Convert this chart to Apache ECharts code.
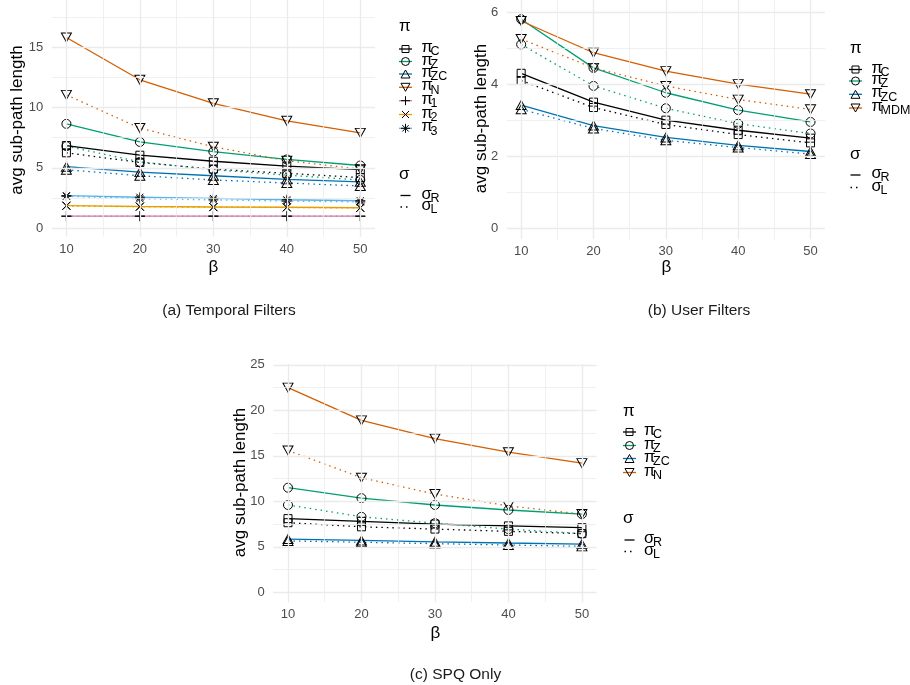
<!DOCTYPE html>
<html>
<head>
<meta charset="utf-8">
<script src="https://cdn.jsdelivr.net/npm/echarts@6/dist/echarts.min.js"></script>
<style>
html,body{margin:0;padding:0;background:#fff}
#chart{width:910px;height:685px}
</style>
</head>
<body>
<div id="chart"></div>
<script>
// ---- data -------------------------------------------------------------
const beta = [10, 20, 30, 40, 50];
const betaMinor = [15, 25, 35, 45];

// (a) Temporal Filters
const tempYTicks = [0, 5, 10, 15];
const tempYMinor = [2.5, 7.5, 12.5, 17.5];
const tempC_R  = [6.85, 6.05, 5.55, 5.15, 4.85];
const tempC_L  = [6.25, 5.45, 4.9, 4.55, 4.2];
const tempZ_R  = [8.65, 7.15, 6.35, 5.7, 5.2];
const tempZ_L  = [6.8, 5.5, 4.85, 4.4, 4.0];
const tempZC_R = [5.1, 4.65, 4.35, 4.05, 3.85];
const tempZC_L = [4.85, 4.35, 4.0, 3.75, 3.5];
const tempN_R  = [15.8, 12.3, 10.35, 8.9, 7.9];
const tempN_L  = [11.05, 8.3, 6.75, 5.6, 4.9];
const temp1_R  = [1, 1, 1, 1, 1];
const temp1_L  = [1, 1, 1, 1, 1];
const temp2_R  = [1.88, 1.8, 1.76, 1.74, 1.7];
const temp2_L  = [1.85, 1.78, 1.74, 1.72, 1.68];
const temp3_R  = [2.7, 2.57, 2.47, 2.36, 2.28];
const temp3_L  = [2.65, 2.45, 2.35, 2.25, 2.18];

// (b) User Filters
const userYTicks = [0, 2, 4, 6];
const userYMinor = [1, 3, 5];
const userC_R   = [4.3, 3.5, 3.0, 2.72, 2.5];
const userC_L   = [4.1, 3.35, 2.88, 2.6, 2.37];
const userZ_R   = [5.8, 4.45, 3.76, 3.28, 2.95];
const userZ_L   = [5.1, 3.95, 3.33, 2.9, 2.63];
const userZC_R  = [3.42, 2.85, 2.52, 2.3, 2.13];
const userZC_L  = [3.3, 2.77, 2.44, 2.24, 2.06];
const userMDM_R = [5.75, 4.87, 4.36, 4.0, 3.72];
const userMDM_L = [5.25, 4.45, 3.95, 3.57, 3.3];

// (c) SPQ Only
const spqYTicks = [0, 5, 10, 15, 20, 25];
const spqYMinor = [2.5, 7.5, 12.5, 17.5, 22.5];
const spqC_R  = [8.1, 7.8, 7.5, 7.3, 7.1];
const spqC_L  = [7.65, 7.2, 6.95, 6.7, 6.45];
const spqZ_R  = [11.5, 10.35, 9.6, 9.05, 8.6];
const spqZ_L  = [9.6, 8.3, 7.6, 6.95, 6.45];
const spqZC_R = [5.85, 5.7, 5.55, 5.42, 5.3];
const spqZC_L = [5.65, 5.5, 5.35, 5.2, 5.05];
const spqN_R  = [22.5, 18.9, 16.9, 15.4, 14.2];
const spqN_L  = [15.6, 12.6, 10.8, 9.5, 8.6];

// ---- styling ----------------------------------------------------------
const FONT = '"Liberation Sans", Arial, sans-serif';
const COL = { C: '#000000', Z: '#009E73', ZC: '#0072B2', N: '#D55E00',
              p1: '#CC79A7', p2: '#E69F00', p3: '#56B4E9' };
const SYM = {
  square:  { symbol: 'rect', size: 8 },
  circle:  { symbol: 'circle', size: 9 },
  triUp:   { symbol: 'triangle', size: [10, 9] },
  triDown: { symbol: 'triangle', size: [10, 9], rotate: 180 },
  plus:    { symbol: 'path://M5,0L5,10M0,5L10,5', size: 10 },
  cross:   { symbol: 'path://M0,0L10,10M0,10L10,0', size: 8 },
  star:    { symbol: 'path://M5,0L5,10M0,5L10,5M1.5,1.5L8.5,8.5M1.5,8.5L8.5,1.5', size: 10 }
};
const DOTTED = [1.5, 4];
const GRID_COL = '#EBEBEB';

const panels = [
  {
    grid: { left: 51.7, top: 0, width: 323.3, height: 236.7 },
    yMin: -0.70, yMax: 18.91, yTicks: tempYTicks, yMinor: tempYMinor,
    groups: [
      { sub: 'C',  color: COL.C,  sym: SYM.square,  R: tempC_R,  L: tempC_L },
      { sub: 'Z',  color: COL.Z,  sym: SYM.circle,  R: tempZ_R,  L: tempZ_L },
      { sub: 'ZC', color: COL.ZC, sym: SYM.triUp,   R: tempZC_R, L: tempZC_L },
      { sub: 'N',  color: COL.N,  sym: SYM.triDown, R: tempN_R,  L: tempN_L },
      { sub: '1',  color: COL.p1, sym: SYM.plus,    R: temp1_R,  L: temp1_L },
      { sub: '2',  color: COL.p2, sym: SYM.cross,   R: temp2_R,  L: temp2_L },
      { sub: '3',  color: COL.p3, sym: SYM.star,    R: temp3_R,  L: temp3_L }
    ],
    legend: { titleX: 399, keyX: 405.5, textX: 421.5, piTitleY: 26,
              itemY: [49, 61.5, 74, 87.3, 100.7, 114.5, 128.3],
              sigTitleY: 174, sigY: [195.5, 207] },
    yTitle: { x: 17.5, y: 120 }, betaTitle: { x: 213.5, y: 267 },
    caption: { text: '(a) Temporal Filters', x: 229, y: 311 }
  },
  {
    grid: { left: 506.7, top: 0, width: 318.3, height: 239.3 },
    yMin: -0.305, yMax: 6.333, yTicks: userYTicks, yMinor: userYMinor,
    groups: [
      { sub: 'C',   color: COL.C,  sym: SYM.square,  R: userC_R,   L: userC_L },
      { sub: 'Z',   color: COL.Z,  sym: SYM.circle,  R: userZ_R,   L: userZ_L },
      { sub: 'ZC',  color: COL.ZC, sym: SYM.triUp,   R: userZC_R,  L: userZC_L },
      { sub: 'MDM', color: COL.N,  sym: SYM.triDown, R: userMDM_R, L: userMDM_L }
    ],
    legend: { titleX: 850, keyX: 855.5, textX: 871.5, piTitleY: 48,
              itemY: [69.5, 81, 94.3, 108],
              sigTitleY: 154, sigY: [175, 187.5] },
    yTitle: { x: 481, y: 118.5 }, betaTitle: { x: 666.5, y: 267 },
    caption: { text: '(b) User Filters', x: 699, y: 311 }
  },
  {
    grid: { left: 273.3, top: 364, width: 323.3, height: 238.3 },
    yMin: -1.1, yMax: 25.1, yTicks: spqYTicks, yMinor: spqYMinor,
    groups: [
      { sub: 'C',  color: COL.C,  sym: SYM.square,  R: spqC_R,  L: spqC_L },
      { sub: 'Z',  color: COL.Z,  sym: SYM.circle,  R: spqZ_R,  L: spqZ_L },
      { sub: 'ZC', color: COL.ZC, sym: SYM.triUp,   R: spqZC_R, L: spqZC_L },
      { sub: 'N',  color: COL.N,  sym: SYM.triDown, R: spqN_R,  L: spqN_L }
    ],
    legend: { titleX: 623, keyX: 629.5, textX: 644, piTitleY: 411.5,
              itemY: [432, 445.5, 458.5, 472.5],
              sigTitleY: 518, sigY: [540, 551.5] },
    yTitle: { x: 240, y: 482.5 }, betaTitle: { x: 435.5, y: 633 },
    caption: { text: '(c) SPQ Only', x: 455.5, y: 675 }
  }
];

// ---- build option -----------------------------------------------------
const grids = [], xAxes = [], yAxes = [], series = [], graphics = [];

function gridLineItems(values, axisKey, width) {
  return values.map(v => ({ [axisKey]: v, lineStyle: { color: GRID_COL, width: width, type: 'solid' } }));
}

panels.forEach((p, idx) => {
  grids.push(Object.assign({ containLabel: false }, p.grid));
  xAxes.push({
    type: 'value', gridIndex: idx, min: 8, max: 52,
    axisLine: { show: false }, axisTick: { show: false }, splitLine: { show: false },
    axisLabel: { customValues: beta, margin: 6, color: '#4D4D4D', fontSize: 13, fontFamily: FONT }
  });
  yAxes.push({
    type: 'value', gridIndex: idx, min: p.yMin, max: p.yMax,
    axisLine: { show: false }, axisTick: { show: false }, splitLine: { show: false },
    axisLabel: { customValues: p.yTicks, margin: 8.5, color: '#4D4D4D', fontSize: 13, fontFamily: FONT }
  });

  // panel grid lines (major + minor) as mark lines on an empty carrier series
  series.push({
    type: 'line', xAxisIndex: idx, yAxisIndex: idx, data: [], z: 0, silent: true,
    markLine: {
      silent: true, symbol: ['none', 'none'], label: { show: false }, animation: false,
      emphasis: { disabled: true },
      data: [].concat(
        gridLineItems(p.yMinor, 'yAxis', 0.75),
        gridLineItems(betaMinor, 'xAxis', 0.75),
        gridLineItems(p.yTicks, 'yAxis', 1.4),
        gridLineItems(beta, 'xAxis', 1.4)
      )
    }
  });

  // one line per policy (π) and sampling (σ) combination
  p.groups.forEach(g => {
    [['R', 'solid'], ['L', DOTTED]].forEach(([key, dash]) => {
      series.push({
        type: 'line', xAxisIndex: idx, yAxisIndex: idx, z: 2,
        name: 'π' + g.sub + ' σ' + key,
        data: beta.map((b, i) => [b, g[key][i]]),
        symbol: g.sym.symbol, symbolSize: g.sym.size, symbolRotate: g.sym.rotate || 0,
        showSymbol: true, animation: false, silent: true,
        lineStyle: { color: g.color, width: 1.3, type: dash, cap: 'butt' },
        itemStyle: { color: 'rgba(0,0,0,0)', borderColor: '#000', borderWidth: 1 },
        emphasis: { disabled: true }
      });
    });
  });

  // axis titles
  graphics.push({
    type: 'text', x: p.yTitle.x, y: p.yTitle.y, rotation: Math.PI / 2,
    style: { text: 'avg sub-path length', fontSize: 17, fontFamily: FONT, fill: '#000',
             align: 'center', verticalAlign: 'middle' }
  });
  graphics.push({
    type: 'text', x: p.betaTitle.x, y: p.betaTitle.y,
    style: { text: 'β', fontSize: 17, fontFamily: FONT, fill: '#000',
             align: 'center', verticalAlign: 'middle' }
  });
  // caption
  graphics.push({
    type: 'text', x: p.caption.x, y: p.caption.y,
    style: { text: p.caption.text, fontSize: 15.5, fontFamily: FONT, fill: '#1a1a1a',
             align: 'center', verticalAlign: 'middle' }
  });

  // legends
  const lg = p.legend;
  const symbolShapes = (kind, cx, cy) => {
    const st = { fill: 'none', stroke: '#000', lineWidth: 1 };
    const ln = (x1, y1, x2, y2) => ({ type: 'line', shape: { x1, y1, x2, y2 }, style: st });
    switch (kind) {
      case SYM.square: return [{ type: 'rect', shape: { x: cx - 3.5, y: cy - 3.5, width: 7, height: 7 }, style: st }];
      case SYM.circle: return [{ type: 'circle', shape: { cx, cy, r: 4 }, style: st }];
      case SYM.triUp: return [{ type: 'polygon', shape: { points: [[cx, cy - 4], [cx + 4.5, cy + 4], [cx - 4.5, cy + 4]] }, style: st }];
      case SYM.triDown: return [{ type: 'polygon', shape: { points: [[cx, cy + 4], [cx + 4.5, cy - 4], [cx - 4.5, cy - 4]] }, style: st }];
      case SYM.plus: return [ln(cx, cy - 4.5, cx, cy + 4.5), ln(cx - 4.5, cy, cx + 4.5, cy)];
      case SYM.cross: return [ln(cx - 3.5, cy - 3.5, cx + 3.5, cy + 3.5), ln(cx - 3.5, cy + 3.5, cx + 3.5, cy - 3.5)];
      default: return [ln(cx, cy - 4.5, cx, cy + 4.5), ln(cx - 4.5, cy, cx + 4.5, cy),
                       ln(cx - 3.2, cy - 3.2, cx + 3.2, cy + 3.2), ln(cx - 3.2, cy + 3.2, cx + 3.2, cy - 3.2)];
    }
  };
  const label = (sym, sub, x, y) => [
    { type: 'text', x: x, y: y - 1.5,
      style: { text: sym, fontSize: 16.5, fontFamily: FONT, fill: '#000', align: 'left', verticalAlign: 'middle' } },
    { type: 'text', x: x + 9, y: y + 3,
      style: { text: sub, fontSize: 12.5, fontFamily: FONT, fill: '#000', align: 'left', verticalAlign: 'middle' } }
  ];
  graphics.push({ type: 'text', x: lg.titleX, y: lg.piTitleY,
    style: { text: 'π', fontSize: 17, fontFamily: FONT, fill: '#000', align: 'left', verticalAlign: 'middle' } });
  p.groups.forEach((g, i) => {
    const cy = lg.itemY[i];
    graphics.push({ type: 'line', shape: { x1: lg.keyX - 6.5, y1: cy, x2: lg.keyX + 6.5, y2: cy },
                    style: { stroke: g.color, lineWidth: 1.3 } });
    symbolShapes(g.sym, lg.keyX, cy).forEach(s => graphics.push(s));
    label('π', g.sub, lg.textX, cy).forEach(s => graphics.push(s));
  });
  graphics.push({ type: 'text', x: lg.titleX, y: lg.sigTitleY,
    style: { text: 'σ', fontSize: 17, fontFamily: FONT, fill: '#000', align: 'left', verticalAlign: 'middle' } });
  [['R', null], ['L', DOTTED]].forEach(([sub, dash], i) => {
    const cy = lg.sigY[i];
    graphics.push({ type: 'line', shape: { x1: lg.keyX - 5, y1: cy, x2: lg.keyX + 5, y2: cy },
                    style: { stroke: '#000', lineWidth: 1.3, lineDash: dash } });
    label('σ', sub, lg.textX, cy).forEach(s => graphics.push(s));
  });
});

const chart = echarts.init(document.getElementById('chart'), null, { renderer: 'canvas' });
chart.setOption({
  animation: false,
  backgroundColor: '#ffffff',
  grid: grids,
  xAxis: xAxes,
  yAxis: yAxes,
  series: series,
  graphic: { elements: graphics }
});
</script>
</body>
</html>
